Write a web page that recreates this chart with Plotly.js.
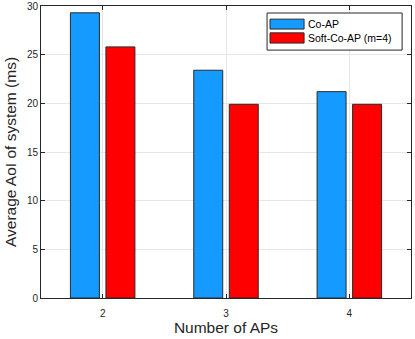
<!DOCTYPE html>
<html><head><meta charset="utf-8">
<script src="https://cdn.plot.ly/plotly-3.0.1.min.js"></script>
<style>html,body{margin:0;padding:0;background:#fff}#chart{width:415px;height:339px}</style>
</head><body><div id="chart"></div>
<script>
const categories = [2, 3, 4];
const coAP = [29.3, 23.4, 21.2];
const softCoAP = [25.8, 19.9, 19.9];
const seriesNames = ['Co-AP', 'Soft-Co-AP (m=4)'];
const seriesColors = ['#159bff', '#ff0000'];
const yTicks = [0, 5, 10, 15, 20, 25, 30];

const font = 'Liberation Sans, Arial, Helvetica, sans-serif';
const edge = '#2a2a2a';
const traces = [
  {type:'bar', x:categories, y:coAP, name:seriesNames[0],
   marker:{color:seriesColors[0], line:{color:edge, width:1}}},
  {type:'bar', x:categories, y:softCoAP, name:seriesNames[1],
   marker:{color:seriesColors[1], line:{color:edge, width:1}}}
];

// custom legend (wide swatches, MATLAB style) in paper coordinates
const legBox = {x0:0.611, x1:0.976, y0:0.849, y1:0.976};
const swX = [0.619, 0.711];
const rows = [{y0:0.921, y1:0.955, ty:0.938}, {y0:0.873, y1:0.908, ty:0.890}];
const shapes = [{type:'rect', xref:'paper', yref:'paper', x0:legBox.x0, x1:legBox.x1,
  y0:legBox.y0, y1:legBox.y1, fillcolor:'#fff', line:{color:'#262626', width:1}, layer:'above'}];
const annotations = [];
seriesNames.forEach((n, i) => {
  shapes.push({type:'rect', xref:'paper', yref:'paper', x0:swX[0], x1:swX[1],
    y0:rows[i].y0, y1:rows[i].y1, fillcolor:seriesColors[i], line:{color:edge, width:1}, layer:'above'});
  annotations.push({xref:'paper', yref:'paper', x:0.716, y:rows[i].ty, xanchor:'left', yanchor:'middle',
    text:n, showarrow:false, font:{family:font, size:10.5, color:'#000'}});
});

const axisCommon = {showline:true, linecolor:'#262626', linewidth:1, mirror:'ticks',
  ticks:'inside', ticklen:4, tickcolor:'#262626', gridcolor:'#e6e6e6', gridwidth:1,
  zeroline:false, tickfont:{family:font, size:10, color:'#262626'}};
const layout = {
  width:415, height:339, margin:{l:41, r:4, t:6, b:41},
  paper_bgcolor:'#fff', plot_bgcolor:'#fff',
  barmode:'group', bargap:0.424, bargroupgap:0.184,
  showlegend:false, shapes:shapes, annotations:annotations,
  xaxis:Object.assign({}, axisCommon, {range:[1.5, 4.5], tickvals:categories,
    ticktext:categories.map(String), ticklabelstandoff:6,
    title:{text:'Number of APs', font:{family:font, size:15.5, color:'#262626'}, standoff:4}}),
  yaxis:Object.assign({}, axisCommon, {range:[0, 30], tickvals:yTicks,
    ticktext:yTicks.map(String),
    title:{text:'Average AoI of system (ms)', font:{family:font, size:15.5, color:'#262626'}, standoff:6}})
};
Plotly.newPlot('chart', traces, layout, {displayModeBar:false, staticPlot:true});
</script></body></html>
